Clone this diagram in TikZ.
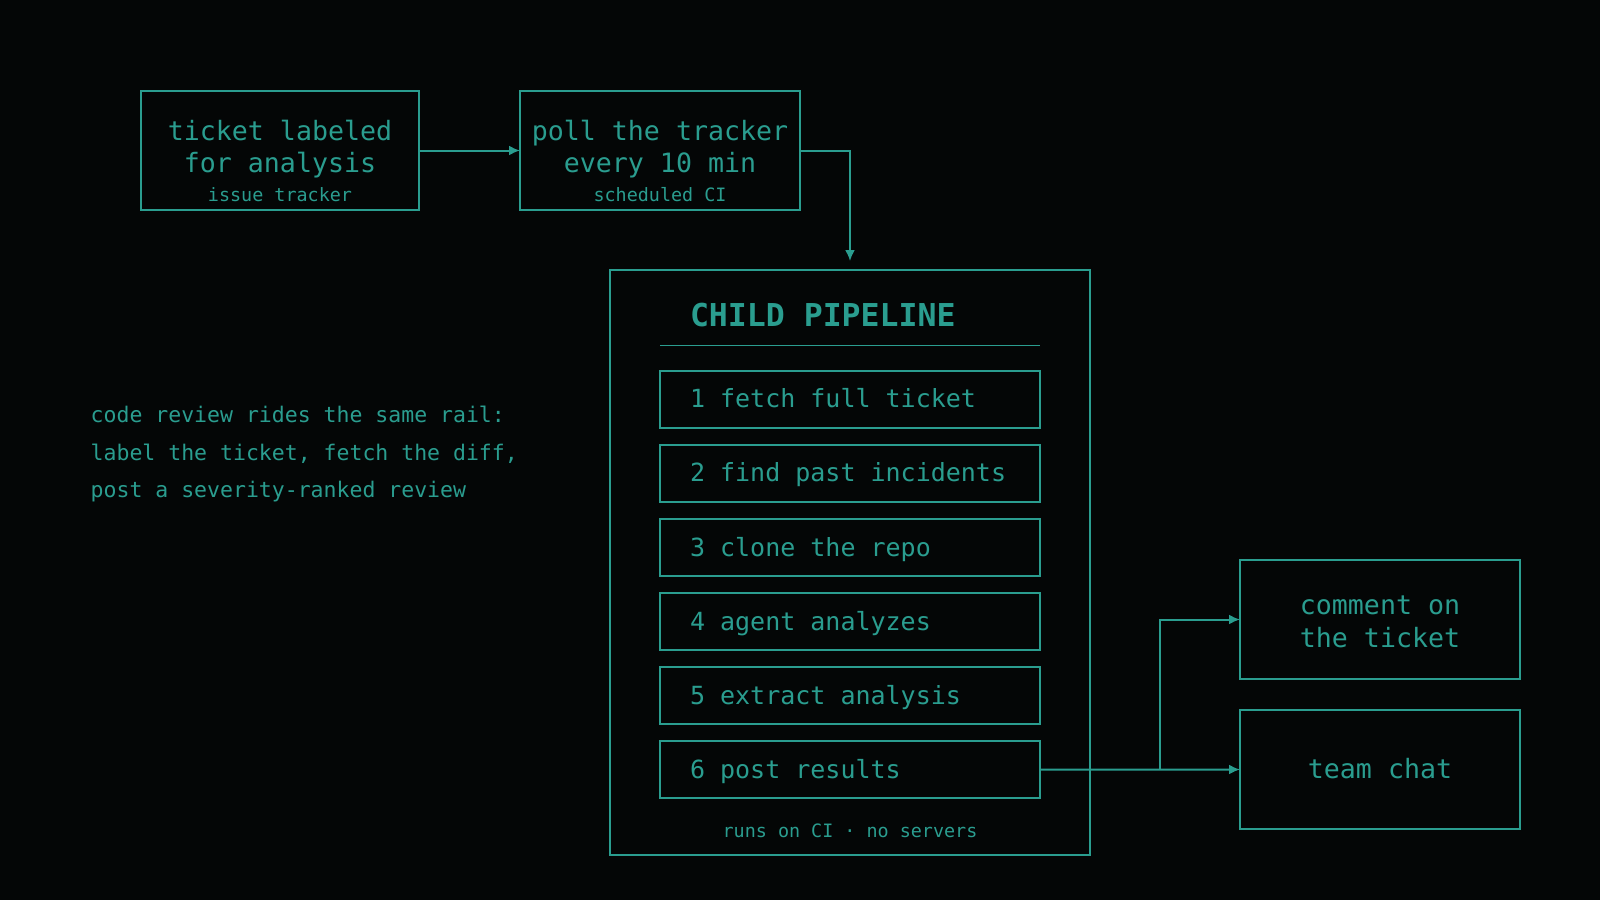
\documentclass[tikz,border=0pt]{standalone}
\usepackage{fontspec}
\setmonofont{DejaVu Sans Mono}
\usetikzlibrary{arrows.meta}
\definecolor{teal1}{HTML}{2A9D8F}
\definecolor{bgc}{HTML}{040606}
\begin{document}
\begin{tikzpicture}[x=1pt,y=-1pt,
  frame/.style={draw=teal1,line width=1.8pt,inner sep=0pt,outer sep=0pt},
  bigtxt/.style={text=teal1,inner sep=0pt,outer sep=0pt,anchor=base,font=\ttfamily\fontsize{26.6}{31.7}\selectfont},
  steptxt/.style={text=teal1,inner sep=0pt,outer sep=0pt,anchor=base west,font=\ttfamily\fontsize{25.0}{30}\selectfont},
  smalltxt/.style={text=teal1,inner sep=0pt,outer sep=0pt,anchor=base,font=\ttfamily\fontsize{18.4}{22}\selectfont},
  notetxt/.style={text=teal1,inner sep=0pt,outer sep=0pt,anchor=base west,font=\ttfamily\fontsize{21.5}{26}\selectfont},
  titletxt/.style={text=teal1,inner sep=0pt,outer sep=0pt,anchor=base west,font=\ttfamily\bfseries\fontsize{31.5}{36}\selectfont},
  arr/.style={draw=teal1,line width=2pt,-{Latex[length=11pt,width=10pt]}},
  rule/.style={draw=teal1,line width=1.2pt}]
\fill[bgc] (0,0) rectangle (1600,900);
\useasboundingbox (0,0) rectangle (1600,900);

% top boxes
\node[frame,minimum width=278.6pt,minimum height=119.4pt] (trig) at (280,150.5) {};
\node[bigtxt] (trig1) at (280,140.5) {ticket labeled};
\node[bigtxt] (trig2) at (280,172.2) {for analysis};
\node[smalltxt] (trig3) at (280,201) {issue tracker};

\node[frame,minimum width=280pt,minimum height=119.4pt] (poll) at (660,150.5) {};
\node[bigtxt] (poll1) at (660,140.5) {poll the tracker};
\node[bigtxt] (poll2) at (660,172.2) {every 10 min};
\node[smalltxt] (poll3) at (660,201) {scheduled CI};

% container
\node[frame,minimum width=480pt,minimum height=585pt] (pipe) at (850,562.5) {};
\node[titletxt] (title) at (690,326.7) {CHILD PIPELINE};
\coordinate (divl) at (660,345.5);
\coordinate (divr) at (1040,345.5);
\draw[rule] (divl) -- (divr);

\foreach \k/\t in {1/1 fetch full ticket,2/2 find past incidents,3/3 clone the repo,4/4 agent analyzes,5/5 extract analysis,6/6 post results}{
  \pgfmathsetmacro{\cy}{399.2+(\k-1)*74.1}
  \node[frame,minimum width=380pt,minimum height=57pt] (s\k) at (850,\cy) {};
  \node[steptxt] (s\k t) at (690,\cy+8.6) {\t};
}
\node[smalltxt] (foot) at (850,837) {runs on CI · no servers};

% outputs
\node[frame,minimum width=280pt,minimum height=119pt] (comment) at (1380,619.5) {};
\node[bigtxt] (comment1) at (1380,614.5) {comment on};
\node[bigtxt] (comment2) at (1380,647) {the ticket};
\node[frame,minimum width=280pt,minimum height=119pt] (chat) at (1380,769.5) {};
\node[bigtxt] (chat1) at (1380,778.5) {team chat};

% note
\node[notetxt] (n1) at (90.7,422.3) {code review rides the same rail:};
\node[notetxt] (n2) at (90.7,460) {label the ticket, fetch the diff,};
\node[notetxt] (n3) at (90.7,497.3) {post a severity-ranked review};

% connectors
\coordinate (dropend) at (850,261);
\coordinate (branch) at (1160,769.6);
\draw[arr] (trig.east) -- (poll.west);
\draw[arr] (poll.east) -| (dropend);
\draw[arr] (s6.east) -- (chat.west);
\draw[arr] (branch) |- (comment.west);
\end{tikzpicture}
\end{document}
